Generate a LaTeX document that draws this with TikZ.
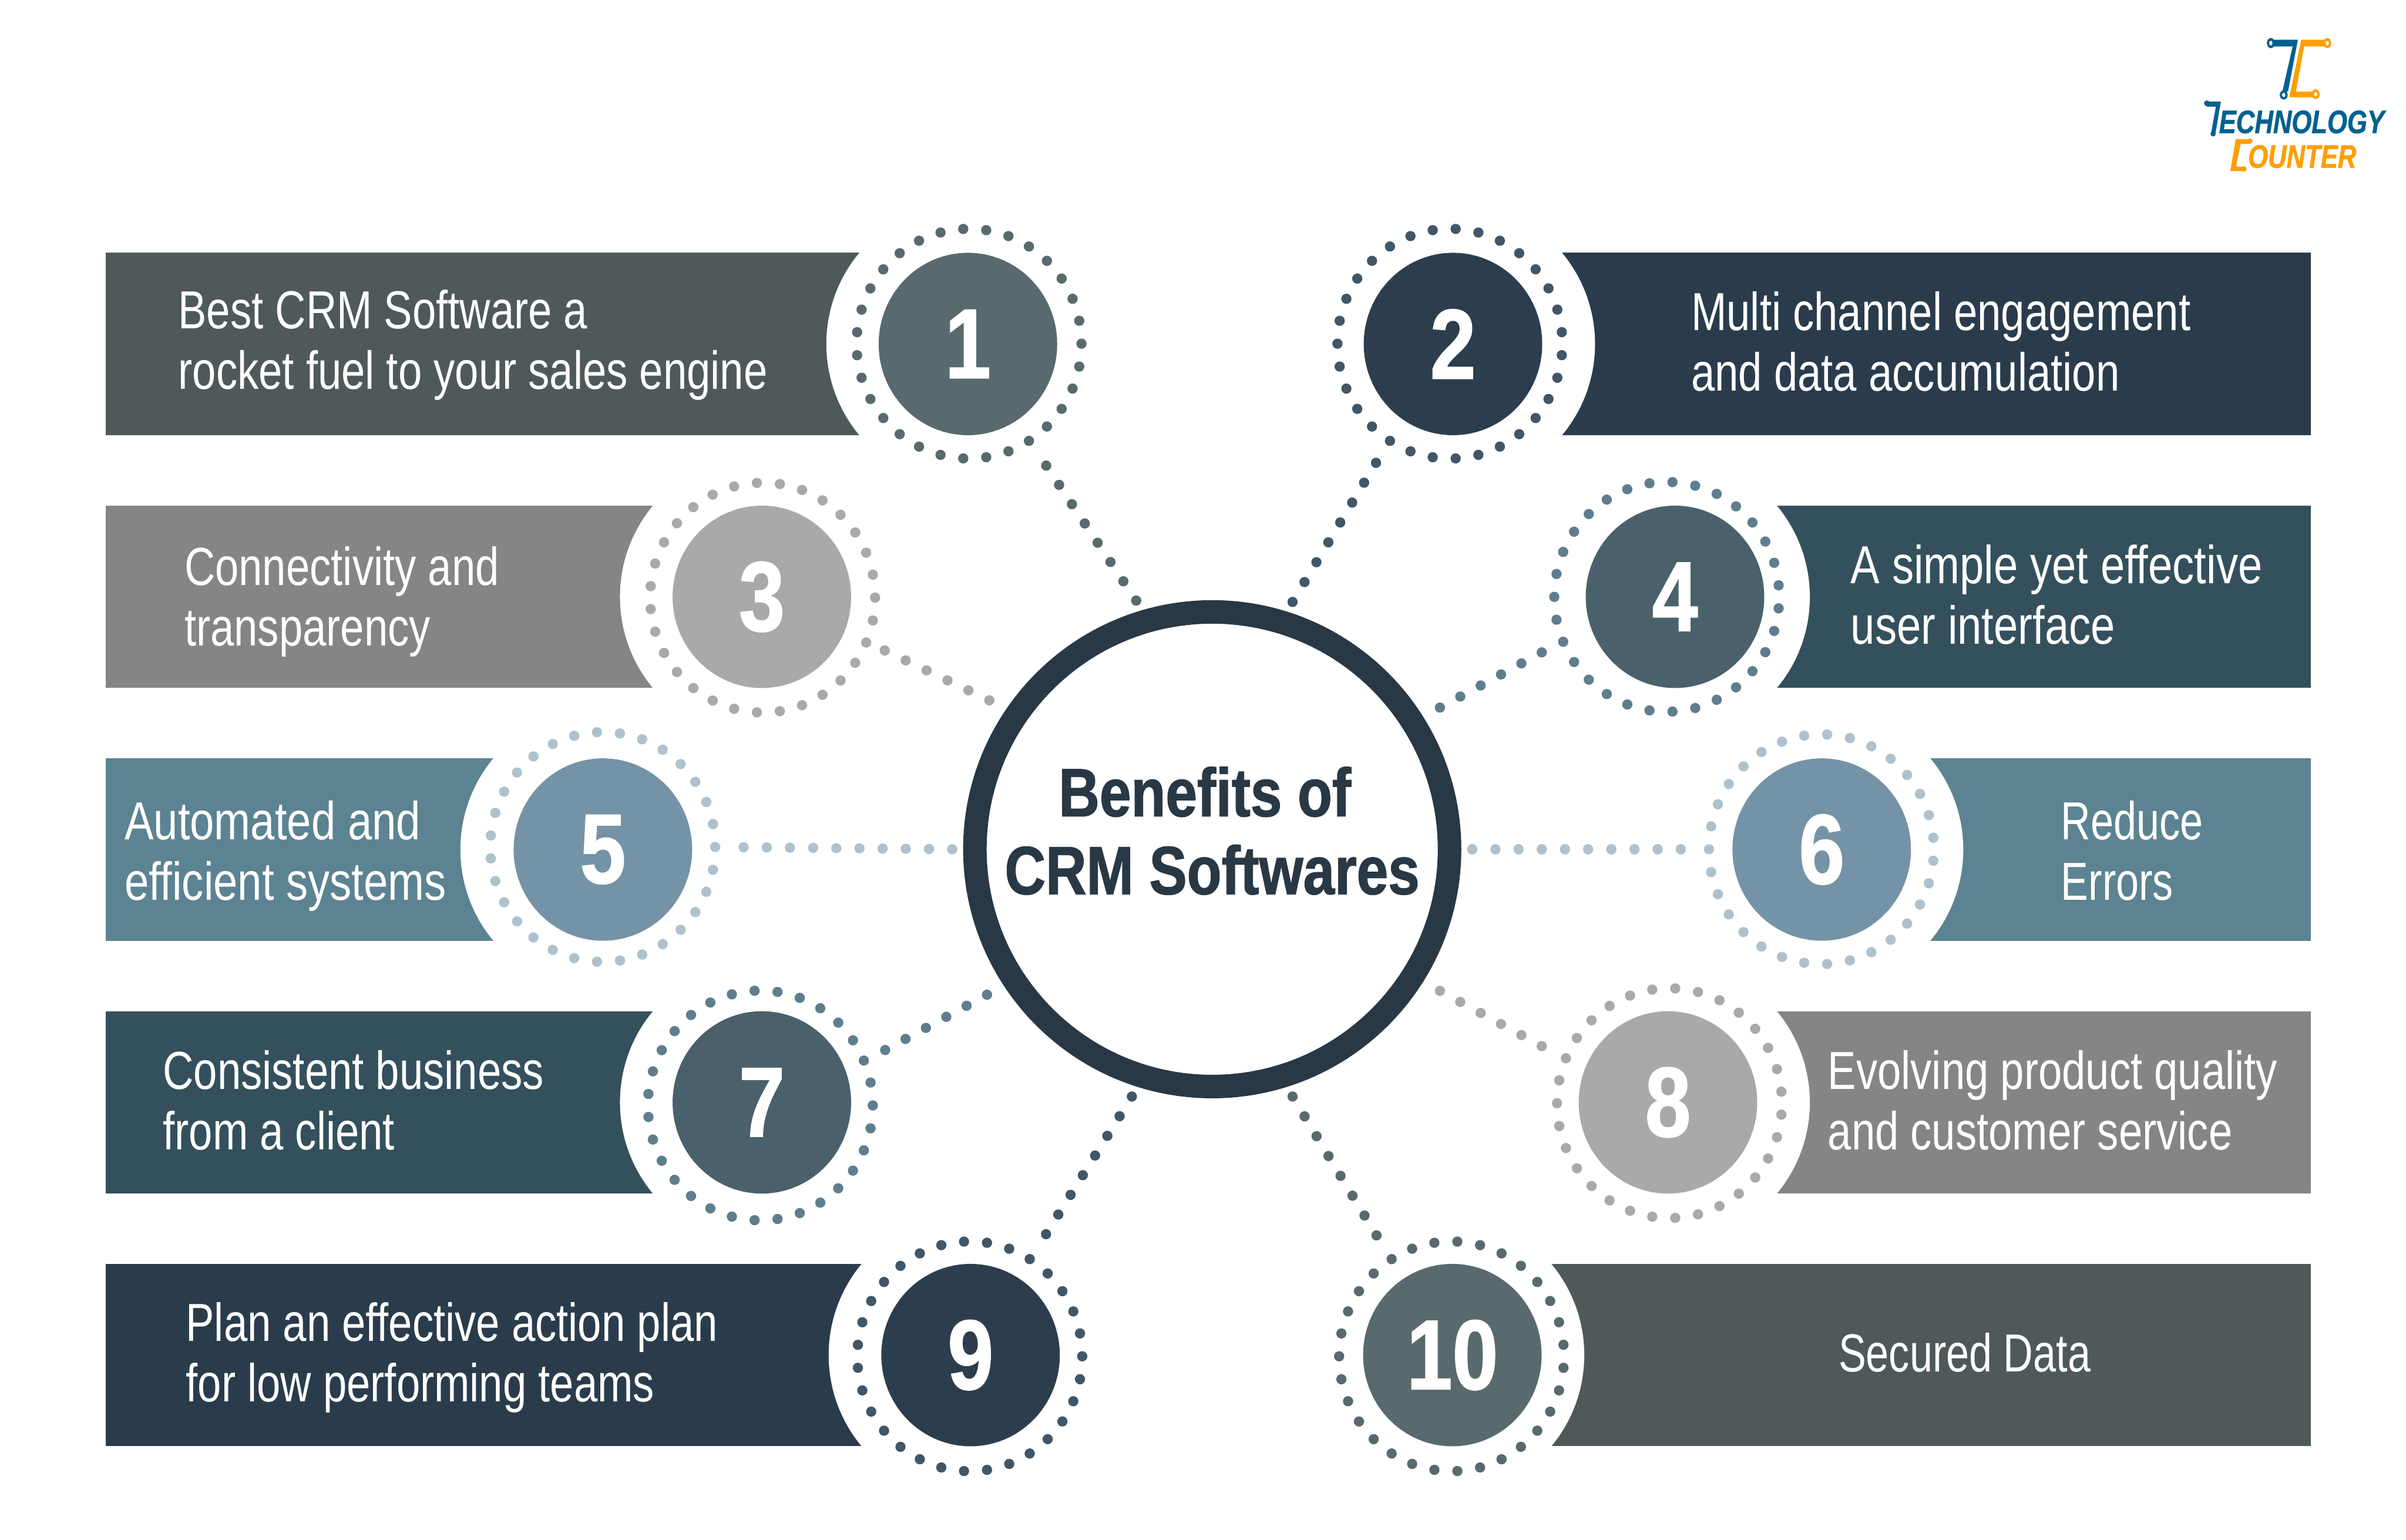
\documentclass[tikz,border=0pt]{standalone}
\usepackage{fontspec}
\usepackage{xcolor}
\usetikzlibrary{positioning,shapes.geometric}
\newfontfamily\barfont[FakeStretch=0.795]{Liberation Sans}
\newfontfamily\barwidefont[FakeStretch=0.815]{Liberation Sans}
\newfontfamily\bartightfont[FakeStretch=0.77]{Liberation Sans}
\newfontfamily\numfont[FakeStretch=0.83,BoldFeatures={FakeBold=1.2}]{Liberation Sans}
\newfontfamily\logofont[FakeStretch=0.79,BoldItalicFeatures={FakeBold=1}]{Liberation Sans}

\definecolor{slatecircle}{HTML}{586A6D}
\definecolor{slatebar}{HTML}{50595A}
\definecolor{navycircle}{HTML}{2C3E4D}
\definecolor{navybar}{HTML}{2A3C4C}
\definecolor{navydot}{HTML}{415667}
\definecolor{greycircle}{HTML}{A9A9A9}
\definecolor{greybar}{HTML}{858585}
\definecolor{steelcircle}{HTML}{7593A6}
\definecolor{steelbar}{HTML}{5C8391}
\definecolor{steeldot}{HTML}{AEC1CD}
\definecolor{tealcircle}{HTML}{4A616B}
\definecolor{tealbar}{HTML}{34505C}
\definecolor{tealdot}{HTML}{5E7E8E}
\definecolor{hubring}{HTML}{293845}
\definecolor{logoblue}{HTML}{00618F}
\definecolor{logoorange}{HTML}{FF9E00}

\tikzset{
  bar/.style={rectangle,minimum height=112.4pt,outer sep=0pt,inner sep=0pt},
  cutdisc/.style={circle,fill=white,minimum size=175.8pt,inner sep=0pt},
  ring/.style={ellipse,draw=#1,line width=6.3pt,line cap=round,inner sep=0pt,outer sep=0pt,
    minimum width=138.6pt,minimum height=141.6pt,dash pattern=on 0.01pt off 14.19pt},
  ringr/.style={ring=#1,dash phase=7.1pt},
  num/.style={ellipse,fill=#1,text=white,minimum width=110pt,minimum height=112.4pt,inner sep=0pt,
    font=\numfont\bfseries\fontsize{61}{61}\selectfont},
  bartext/.style={text=white,align=left,anchor=west,inner sep=0pt,
    font=\barfont\fontsize{33}{37.3}\selectfont},
  link/.style={draw=#1,line width=6.3pt,line cap=round,dash pattern=on 0.01pt off 14.27pt,shorten >=6pt},
}

\begin{document}
\begin{tikzpicture}[x=0.033227cm,y=-0.033227cm]
\useasboundingbox (0,0) rectangle (1568,1003.4);

% bars
\node[bar,fill=slatebar,minimum width=500pt,anchor=west] (bar1) at (69,224.2) {};
\node[bar,fill=navybar,minimum width=500pt,anchor=east] (bar2) at (1506,224.2) {};
\node[bar,fill=greybar,minimum width=370pt,anchor=west] (bar3) at (69,389) {};
\node[bar,fill=tealbar,minimum width=370pt,anchor=east] (bar4) at (1506,389) {};
\node[bar,fill=steelbar,minimum width=270pt,anchor=west] (bar5) at (69,553.7) {};
\node[bar,fill=steelbar,minimum width=270pt,anchor=east] (bar6) at (1506,553.7) {};
\node[bar,fill=tealbar,minimum width=370pt,anchor=west] (bar7) at (69,718.5) {};
\node[bar,fill=greybar,minimum width=370pt,anchor=east] (bar8) at (1506,718.5) {};
\node[bar,fill=navybar,minimum width=500pt,anchor=west] (bar9) at (69,883.2) {};
\node[bar,fill=slatebar,minimum width=500pt,anchor=east] (bar10) at (1506,883.2) {};

% white bites out of the bars
\node[cutdisc] (cut1) at (631.5,224.2) {};
\node[cutdisc] (cut2) at (946.5,224.2) {};
\node[cutdisc] (cut3) at (497,389) {};
\node[cutdisc] (cut4) at (1086.5,389) {};
\node[cutdisc] (cut5) at (393,553.7) {};
\node[cutdisc] (cut6) at (1186.5,553.7) {};
\node[cutdisc] (cut7) at (497,718.5) {};
\node[cutdisc] (cut8) at (1086.5,718.5) {};
\node[cutdisc] (cut9) at (633,883.2) {};
\node[cutdisc] (cut10) at (939.5,883.2) {};

% dotted rings
\node[ring=slatecircle] (ring1) at (631.5,224) {};
\node[ringr=navydot] (ring2) at (944.9,224) {};
\node[ring=greycircle] (ring3) at (497,389.5) {};
\node[ringr=tealdot] (ring4) at (1086.2,389) {};
\node[ring=steeldot] (ring5) at (392.8,552) {};
\node[ringr=steeldot] (ring6) at (1187,553.5) {};
\node[ring=tealdot] (ring7) at (495.5,720.5) {};
\node[ringr=greycircle] (ring8) at (1088,719) {};
\node[ring=navydot] (ring9) at (632,884) {};
\node[ringr=slatecircle] (ring10) at (946,884) {};

% numbered circles
\node[num=slatecircle] (num1) at (630.8,224.2) {1};
\node[num=navycircle] (num2) at (946.9,224.2) {2};
\node[num=greycircle] (num3) at (496.5,389) {3};
\node[num=tealcircle] (num4) at (1091.6,389) {4};
\node[num=steelcircle] (num5) at (392.9,553.7) {5};
\node[num=steelcircle] (num6) at (1187.2,553.7) {6};
\node[num=tealcircle] (num7) at (496.5,718.5) {7};
\node[num=greycircle] (num8) at (1087,718.5) {8};
\node[num=navycircle] (num9) at (632.5,883.2) {9};
\node[num=slatecircle] (num10) at (946.5,883.2) {10};

% centre
\node[circle,draw=hubring,line width=14.5pt,minimum size=292.5pt,inner sep=0pt,outer sep=14pt] (hub) at (790,553.5) {};
\node[align=center,text=hubring,inner sep=0pt,font=\numfont\bfseries\fontsize{42}{48}\selectfont] (hubtext) at (790,541.5)
  {Benefits of\hspace*{9pt}\\CRM Softwares};

% labels
\node[bartext] (text1) at (116,225) {Best CRM Software a\\rocket fuel to your sales engine};
\node[bartext] (text2) at (1102,222.5) {Multi channel engagement\\and data accumulation};
\node[bartext] (text3) at (120,392) {Connectivity and\\transparency};
\node[bartext,font=\barwidefont\fontsize{33}{37.3}\selectfont] (text4) at (1206,387.5) {A simple yet effective\\user interface};
\node[bartext,font=\barwidefont\fontsize{33}{37.3}\selectfont] (text5) at (81,558) {Automated and\\efficient systems};
\node[bartext,font=\bartightfont\fontsize{33}{37.3}\selectfont] (text6) at (1343,554.5) {Reduce\\Errors};
\node[bartext] (text7) at (106,717) {Consistent business\\from a client};
\node[bartext] (text8) at (1191,717) {Evolving product quality\\and customer service};
\node[bartext] (text9) at (121,885) {Plan an effective action plan\\for low performing teams};
\node[bartext,font=\bartightfont\fontsize{33}{37.3}\selectfont] (text10) at (1198,881.5) {Secured Data};

% connectors
\draw[link=slatecircle] (hub.107.8) -- (ring1.-58.9);
\draw[link=navydot] (hub.72.5) -- (ring2.-122);
\draw[link=greycircle,shorten <=5pt] (hub.146.8) -- (ring3.-23);
\draw[link=tealdot,shorten <=5pt] (hub.32.5) -- (ring4.203);
\draw[link=steeldot] (hub.180) -- (ring5.0);
\draw[link=steeldot] (hub.0) -- (ring6.180);
\draw[link=tealdot,shorten <=5pt] (hub.213.3) -- (ring7.23);
\draw[link=greycircle,shorten <=5pt] (hub.-32.3) -- (ring8.157);
\draw[link=navydot] (hub.-108.3) -- (ring9.58);
\draw[link=slatecircle] (hub.-72.3) -- (ring10.122);

% logo
\begin{scope}[shift={(1399.5,9.03)},xscale=0.10749,yscale=0.1003]
\fill[logoblue] (748,168) -- (912,168) -- (852,505) -- (818,505) -- (880,212) -- (748,212) -- cycle;
\fill[logoblue] (748,190) ellipse[x radius=24,y radius=33];
\fill[white] (748,190) ellipse[x radius=10,y radius=15];
\fill[logoblue] (826,527) ellipse[x radius=24,y radius=30];
\fill[white] (826,527) ellipse[x radius=10,y radius=14];
\fill[logoorange] (932,168) -- (1090,168) -- (1090,212) -- (950,212) -- (900,505) -- (1020,505) -- (1020,542) -- (860,542) -- cycle;
\fill[logoorange] (1090,190) ellipse[x radius=24,y radius=33];
\fill[white] (1090,190) ellipse[x radius=10,y radius=15];
\fill[logoorange] (1020,522) ellipse[x radius=24,y radius=32];
\fill[white] (1020,522) ellipse[x radius=10,y radius=14];
\fill[logoblue] (360,570) -- (445,570) -- (412,778) -- (385,778) -- (415,603) -- (360,603) -- cycle;
\fill[logoblue] (360,581) ellipse[x radius=17,y radius=19];
\fill[logoblue] (398,780) ellipse[x radius=16,y radius=17];
\fill[logoorange] (535,815) -- (622,815) -- (622,845) -- (565,845) -- (537,992) -- (585,992) -- (585,1022) -- (502,1022) -- cycle;
\fill[logoorange] (622,826) ellipse[x radius=15,y radius=17];
\fill[logoorange] (585,1008) ellipse[x radius=16,y radius=17];
\node[text=logoblue,anchor=base west,inner sep=0pt,font=\logofont\bfseries\itshape\fontsize{20}{20}\selectfont] (logotop) at (432,775) {ECHNOLOGY};
\node[text=logoorange,anchor=base west,inner sep=0pt,font=\logofont\bfseries\itshape\fontsize{20}{20}\selectfont] (logobottom) at (608,1000) {OUNTER};
\end{scope}
\end{tikzpicture}
\end{document}
